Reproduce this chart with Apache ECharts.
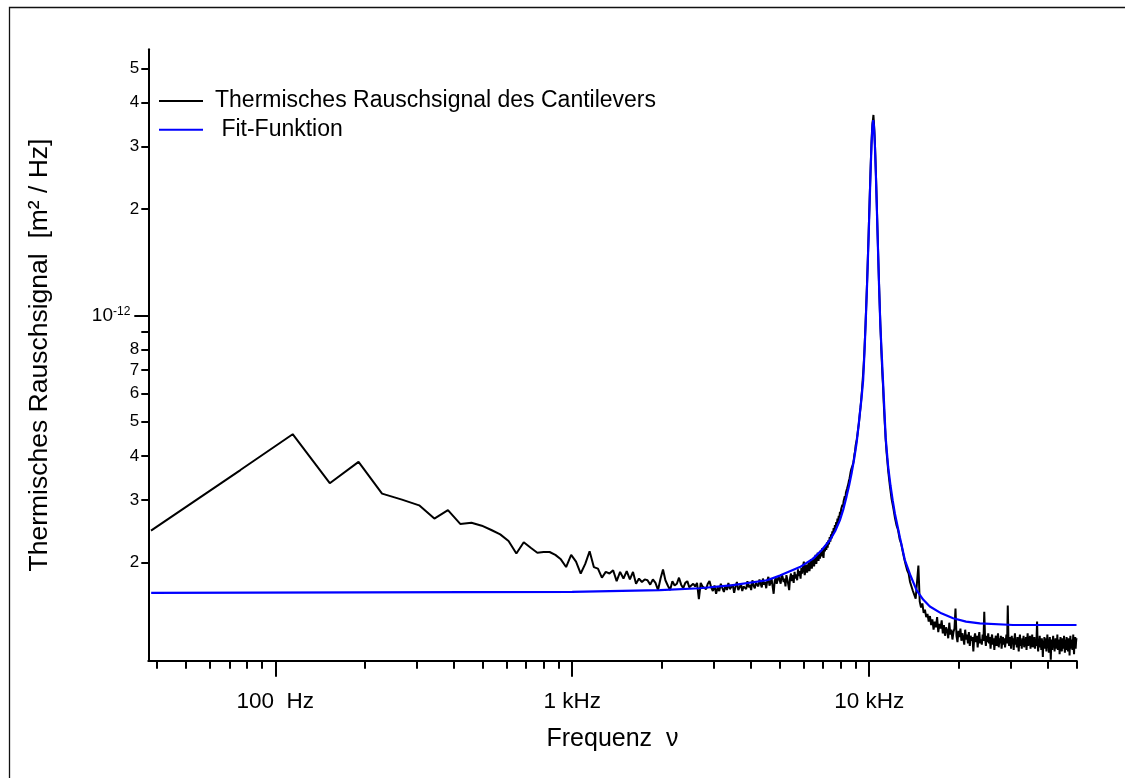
<!DOCTYPE html>
<html><head><meta charset="utf-8">
<script src="https://cdn.jsdelivr.net/npm/echarts@6/dist/echarts.min.js"></script>
<style>html,body{margin:0;padding:0;background:#fff}#c{width:1125px;height:778px}</style>
</head><body><div id="c"></div>
<script>
const FONT = '"Liberation Sans", Arial, Helvetica, sans-serif';

// FFT bin width of the measured spectrum (Hz)
const DF = 38.15;
// measured noise PSD, units of 1e-13 m^2/Hz, bins k = 1..303 (every bin)
const psdLow = [
2.46,3.65,4.61,3.35,3.85,3.13,3.01,2.90,2.66,2.81,
2.57,2.59,2.54,2.47,2.40,2.30,2.12,2.28,2.20,2.13,
2.14,2.14,2.10,2.04,1.94,2.10,2.01,1.86,1.98,2.15,
1.94,1.92,1.81,1.88,1.86,1.90,1.77,1.88,1.80,1.89,
1.79,1.88,1.74,1.80,1.76,1.79,1.78,1.73,1.79,1.75,
1.67,1.80,1.91,1.78,1.72,1.67,1.77,1.72,1.74,1.81,
1.73,1.69,1.75,1.77,1.70,1.69,1.74,1.71,1.75,1.575,
1.75,1.71,1.73,1.68,1.74,1.77,1.70,1.66,1.72,1.63,
1.70,1.66,1.74,1.69,1.65,1.72,1.67,1.75,1.68,1.69,
1.73,1.64,1.71,1.76,1.67,1.70,1.74,1.66,1.71,1.72,
1.68,1.77,1.70,1.73,1.67,1.78,1.72,1.69,1.75,1.77,
1.71,1.79,1.74,1.70,1.80,1.73,1.76,1.69,1.78,1.82,
1.72,1.75,1.80,1.71,1.63,1.77,1.81,1.74,1.79,1.82,
1.78,1.74,1.85,1.82,1.76,1.80,1.71,1.84,1.79,1.73,
1.67,1.81,1.86,1.77,1.84,1.75,1.88,1.80,1.85,1.78,
1.91,1.83,1.89,1.80,1.93,1.86,1.95,2.01,1.84,1.90,
1.97,1.87,1.93,2.00,1.89,1.96,2.04,1.92,1.99,2.06,
1.95,2.03,2.10,1.98,2.07,2.13,2.02,2.11,2.05,2.16,
2.08,2.19,2.12,2.06,2.21,2.15,2.24,2.17,2.28,2.20,
2.31,2.25,2.36,2.29,2.40,2.34,2.45,2.39,2.50,2.44,
2.55,2.49,2.60,2.54,2.66,2.59,2.71,2.66,2.78,2.72,
2.83,2.80,2.91,2.87,2.98,2.95,3.08,3.04,3.16,3.14,
3.24,3.27,3.33,3.40,3.45,3.52,3.60,3.66,3.62,3.70,
3.78,3.84,3.94,4.06,4.12,4.28,4.31,4.44,4.55,4.60,
4.82,4.94,5.12,5.30,5.47,5.66,5.92,6.15,6.48,6.78,
7.15,7.60,8.15,8.80,9.55,10.4,11.4,12.5,13.8,15.3,
16.9,18.9,21.0,23.3,25.8,28.4,31.0,33.3,35.0,35.8,
36.9,35.0,33.3,31.0,28.4,25.8,23.3,20.9,18.7,16.8,
15.1,13.6,12.3,11.2,10.2,9.4,8.7,8.0,7.5,7.0,
6.6,6.3,5.85,5.5,5.2,4.92,4.70,4.45,4.28,4.10,
3.98,3.86,3.74
];
// measured noise PSD above the resonance, bins k = 304, 308, ... 1308
const HIGH_START = 304, HIGH_STEP = 4;
const psdHigh = [
3.62,3.28,3.02,2.86,2.68,2.55,2.47,2.33,2.26,2.15,
2.05,1.97,1.90,1.86,1.76,1.74,1.66,1.68,1.58,1.57,
1.96,1.55,1.49,1.53,1.44,1.47,1.40,1.43,1.36,1.41,
1.33,1.38,1.29,1.36,1.31,1.40,1.27,1.34,1.30,1.37,
1.26,1.33,1.24,1.31,1.28,1.22,1.35,1.25,1.29,1.21,
1.27,1.30,1.48,1.24,1.19,1.28,1.23,1.30,1.20,1.26,
1.22,1.17,1.29,1.21,1.25,1.18,1.27,1.16,1.24,1.20,
1.23,1.12,1.22,1.26,1.19,1.24,1.15,1.22,1.27,1.18,
1.21,1.17,1.25,1.20,1.45,1.22,1.16,1.24,1.19,1.26,
1.18,1.23,1.14,1.21,1.25,1.17,1.22,1.13,1.20,1.24,
1.16,1.21,1.26,1.15,1.22,1.18,1.24,1.14,1.20,1.23,
1.17,1.22,1.15,1.20,1.25,1.18,1.51,1.21,1.16,1.23,
1.19,1.14,1.24,1.18,1.22,1.13,1.21,1.26,1.17,1.20,
1.15,1.23,1.19,1.12,1.21,1.25,1.16,1.20,1.14,1.22,
1.18,1.24,1.15,1.21,1.17,1.23,1.13,1.20,1.26,1.16,
1.22,1.17,1.24,1.14,1.20,1.18,1.25,1.15,1.21,1.17,
1.23,1.14,1.20,1.16,1.22,1.36,1.17,1.12,1.21,1.18,
1.24,1.15,1.19,1.13,1.22,1.17,1.08,1.20,1.16,1.23,
1.14,1.19,1.22,1.12,1.18,1.25,1.15,1.20,1.11,1.19,
1.23,1.16,1.06,1.18,1.21,1.13,1.19,1.24,1.15,1.20,
1.12,1.18,1.22,1.14,1.19,1.16,1.25,1.13,1.20,1.17,
1.21,1.10,1.18,1.23,1.15,1.19,1.12,1.22,1.17,1.20,
1.14,1.24,1.16,1.11,1.21,1.18,1.13,1.23,1.15,1.19,
1.12,1.22,1.17,1.20,1.09,1.18,1.24,1.14,1.19,1.16,
1.21,1.13,1.18,1.25,1.15,1.10,1.20,1.17,1.23,1.14,
1.19,1.22
];
// fit curve (Hz, 1e-13 m^2/Hz)
const fitFreq = [38.2,1000,1974,2692,3476,4524,5004,5845,6477,6900,7373,7680,7967,8190,8390,8560,8724,8900,9071,9190,9306,9430,9546,9640,9728,9843,9957,10033,10110,10186,10262,10320,10377,10453,10529,10606,10682,10796,10911,11146,11369,11588,11800,12000,12207,12700,13192,13800,14442,15200,16013,17500,19179,21200,23588,30525,49930];
const fitVal  = [1.64,1.65,1.67,1.69,1.725,1.78,1.835,1.94,2.05,2.16,2.31,2.45,2.63,2.83,3.07,3.30,3.57,3.92,4.35,4.78,5.28,5.85,6.56,7.8,9.4,12.3,16.6,20.6,25.4,30.4,34.4,35.7,34.4,30.4,25.4,20.6,16.6,12.2,9.3,6.4,4.5,3.73,3.3,3.0,2.75,2.35,2.03,1.83,1.67,1.57,1.50,1.435,1.39,1.36,1.344,1.33,1.33];

const seriesNames = ['Thermisches Rauschsignal des Cantilevers', ' Fit-Funktion'];
const xMajorTicks = [100, 1000, 10000];
const xMajorLabels = ['100  Hz', '1 kHz', '10 kHz'];
const xMinorTicks = [40,50,60,70,80,90,200,300,400,500,600,700,800,900,2000,3000,4000,5000,6000,7000,8000,9000,20000,30000,40000,50000];
const yMinorTicks = [2,3,4,5,6,7,8,9,20,30,40,50];
const yMinorLabels = [2,3,4,5,6,7,8,20,30,40,50];
const yMajorTicks = [10];
const X_MIN = 37.36, X_MAX = 50000, Y_MIN = 1.054, Y_MAX = 56.6;

const blackData = psdLow.map((v, i) => [(i + 1) * DF, v])
  .concat(psdHigh.map((v, i) => [(HIGH_START + HIGH_STEP * i) * DF, v]));
const fitData = fitFreq.map((f, i) => [f, fitVal[i]]);

const chart = echarts.init(document.getElementById('c'), null, {renderer: 'canvas'});
const axisBlack = {color: '#000', width: 2};
const commonX = {type: 'log', logBase: 10, min: X_MIN, max: X_MAX, gridIndex: 0, position: 'bottom',
  splitLine: {show: false}, minorTick: {show: false}, minorSplitLine: {show: false}};
const commonY = {type: 'log', logBase: 10, min: Y_MIN, max: Y_MAX, gridIndex: 0, position: 'left',
  splitLine: {show: false}, minorTick: {show: false}, minorSplitLine: {show: false}};

chart.setOption({
  animation: false,
  backgroundColor: '#fff',
  textStyle: {fontFamily: FONT},
  graphic: [{type: 'rect', silent: true, shape: {x: 9.5, y: 7.5, width: 1300, height: 900},
    style: {fill: 'none', stroke: '#111', lineWidth: 1.3}}],
  grid: {left: 148.3, right: 48.3, top: 49.3, bottom: 117.3, containLabel: false, outerBoundsMode: 'none'},
  legend: {
    orient: 'vertical', left: 159, top: 89.5, padding: 0, itemWidth: 44, itemHeight: 2, itemGap: 5.7,
    icon: 'rect',
    textStyle: {fontSize: 23, color: '#000', fontFamily: FONT, padding: [0, 0, 0, 7]},
    data: seriesNames
  },
  xAxis: [
    Object.assign({}, commonX, {
      axisLine: {show: true, onZero: false, lineStyle: axisBlack},
      axisTick: {show: true, length: 16, lineStyle: axisBlack, customValues: xMajorTicks},
      axisLabel: {show: true, customValues: xMajorTicks, margin: 30, fontSize: 22.5, color: '#000', fontFamily: FONT,
        formatter: v => xMajorLabels[Math.round(Math.log10(v)) - 2]},
      name: 'Frequenz  ν', nameLocation: 'middle', nameGap: 66,
      nameTextStyle: {fontSize: 25, color: '#000', fontFamily: FONT}
    }),
    Object.assign({}, commonX, {
      axisLine: {show: false},
      axisTick: {show: true, length: 8, lineStyle: axisBlack, customValues: xMinorTicks},
      axisLabel: {show: false}
    })
  ],
  yAxis: [
    Object.assign({}, commonY, {
      axisLine: {show: true, onZero: false, lineStyle: axisBlack},
      axisTick: {show: true, length: 7, lineStyle: axisBlack, customValues: yMinorTicks},
      axisLabel: {show: true, customValues: yMinorLabels, margin: 9, fontSize: 17, color: '#000', fontFamily: FONT,
        formatter: v => { const n = Math.round(v); return String(n >= 10 ? Math.round(n / 10) : n); }},
      name: 'Thermisches Rauschsignal  [m² / Hz]', nameLocation: 'middle', nameGap: 95,
      nameTextStyle: {fontSize: 26.5, color: '#000', fontFamily: FONT}
    }),
    Object.assign({}, commonY, {
      axisLine: {show: false},
      axisTick: {show: true, length: 14, lineStyle: axisBlack, customValues: yMajorTicks},
      axisLabel: {show: true, customValues: yMajorTicks, margin: 18, color: '#000', fontFamily: FONT,
        formatter: () => '{b|10}{s|-12}',
        rich: {b: {fontSize: 19, color: '#000', fontFamily: FONT}, s: {fontSize: 12, color: '#000', fontFamily: FONT, verticalAlign: 'top'}}}
    })
  ],
  series: [
    {name: seriesNames[0], type: 'line', data: blackData, xAxisIndex: 0, yAxisIndex: 0,
      symbol: 'none', showSymbol: false, silent: true, clip: true,
      lineStyle: {color: '#000', width: 2}, itemStyle: {color: '#000'}, emphasis: {disabled: true}, z: 2},
    {name: seriesNames[1], type: 'line', data: fitData, xAxisIndex: 0, yAxisIndex: 0,
      symbol: 'none', showSymbol: false, silent: true, clip: true,
      lineStyle: {color: '#0000ff', width: 2.2}, itemStyle: {color: '#0000ff'}, emphasis: {disabled: true}, z: 3}
  ]
});
</script></body></html>
